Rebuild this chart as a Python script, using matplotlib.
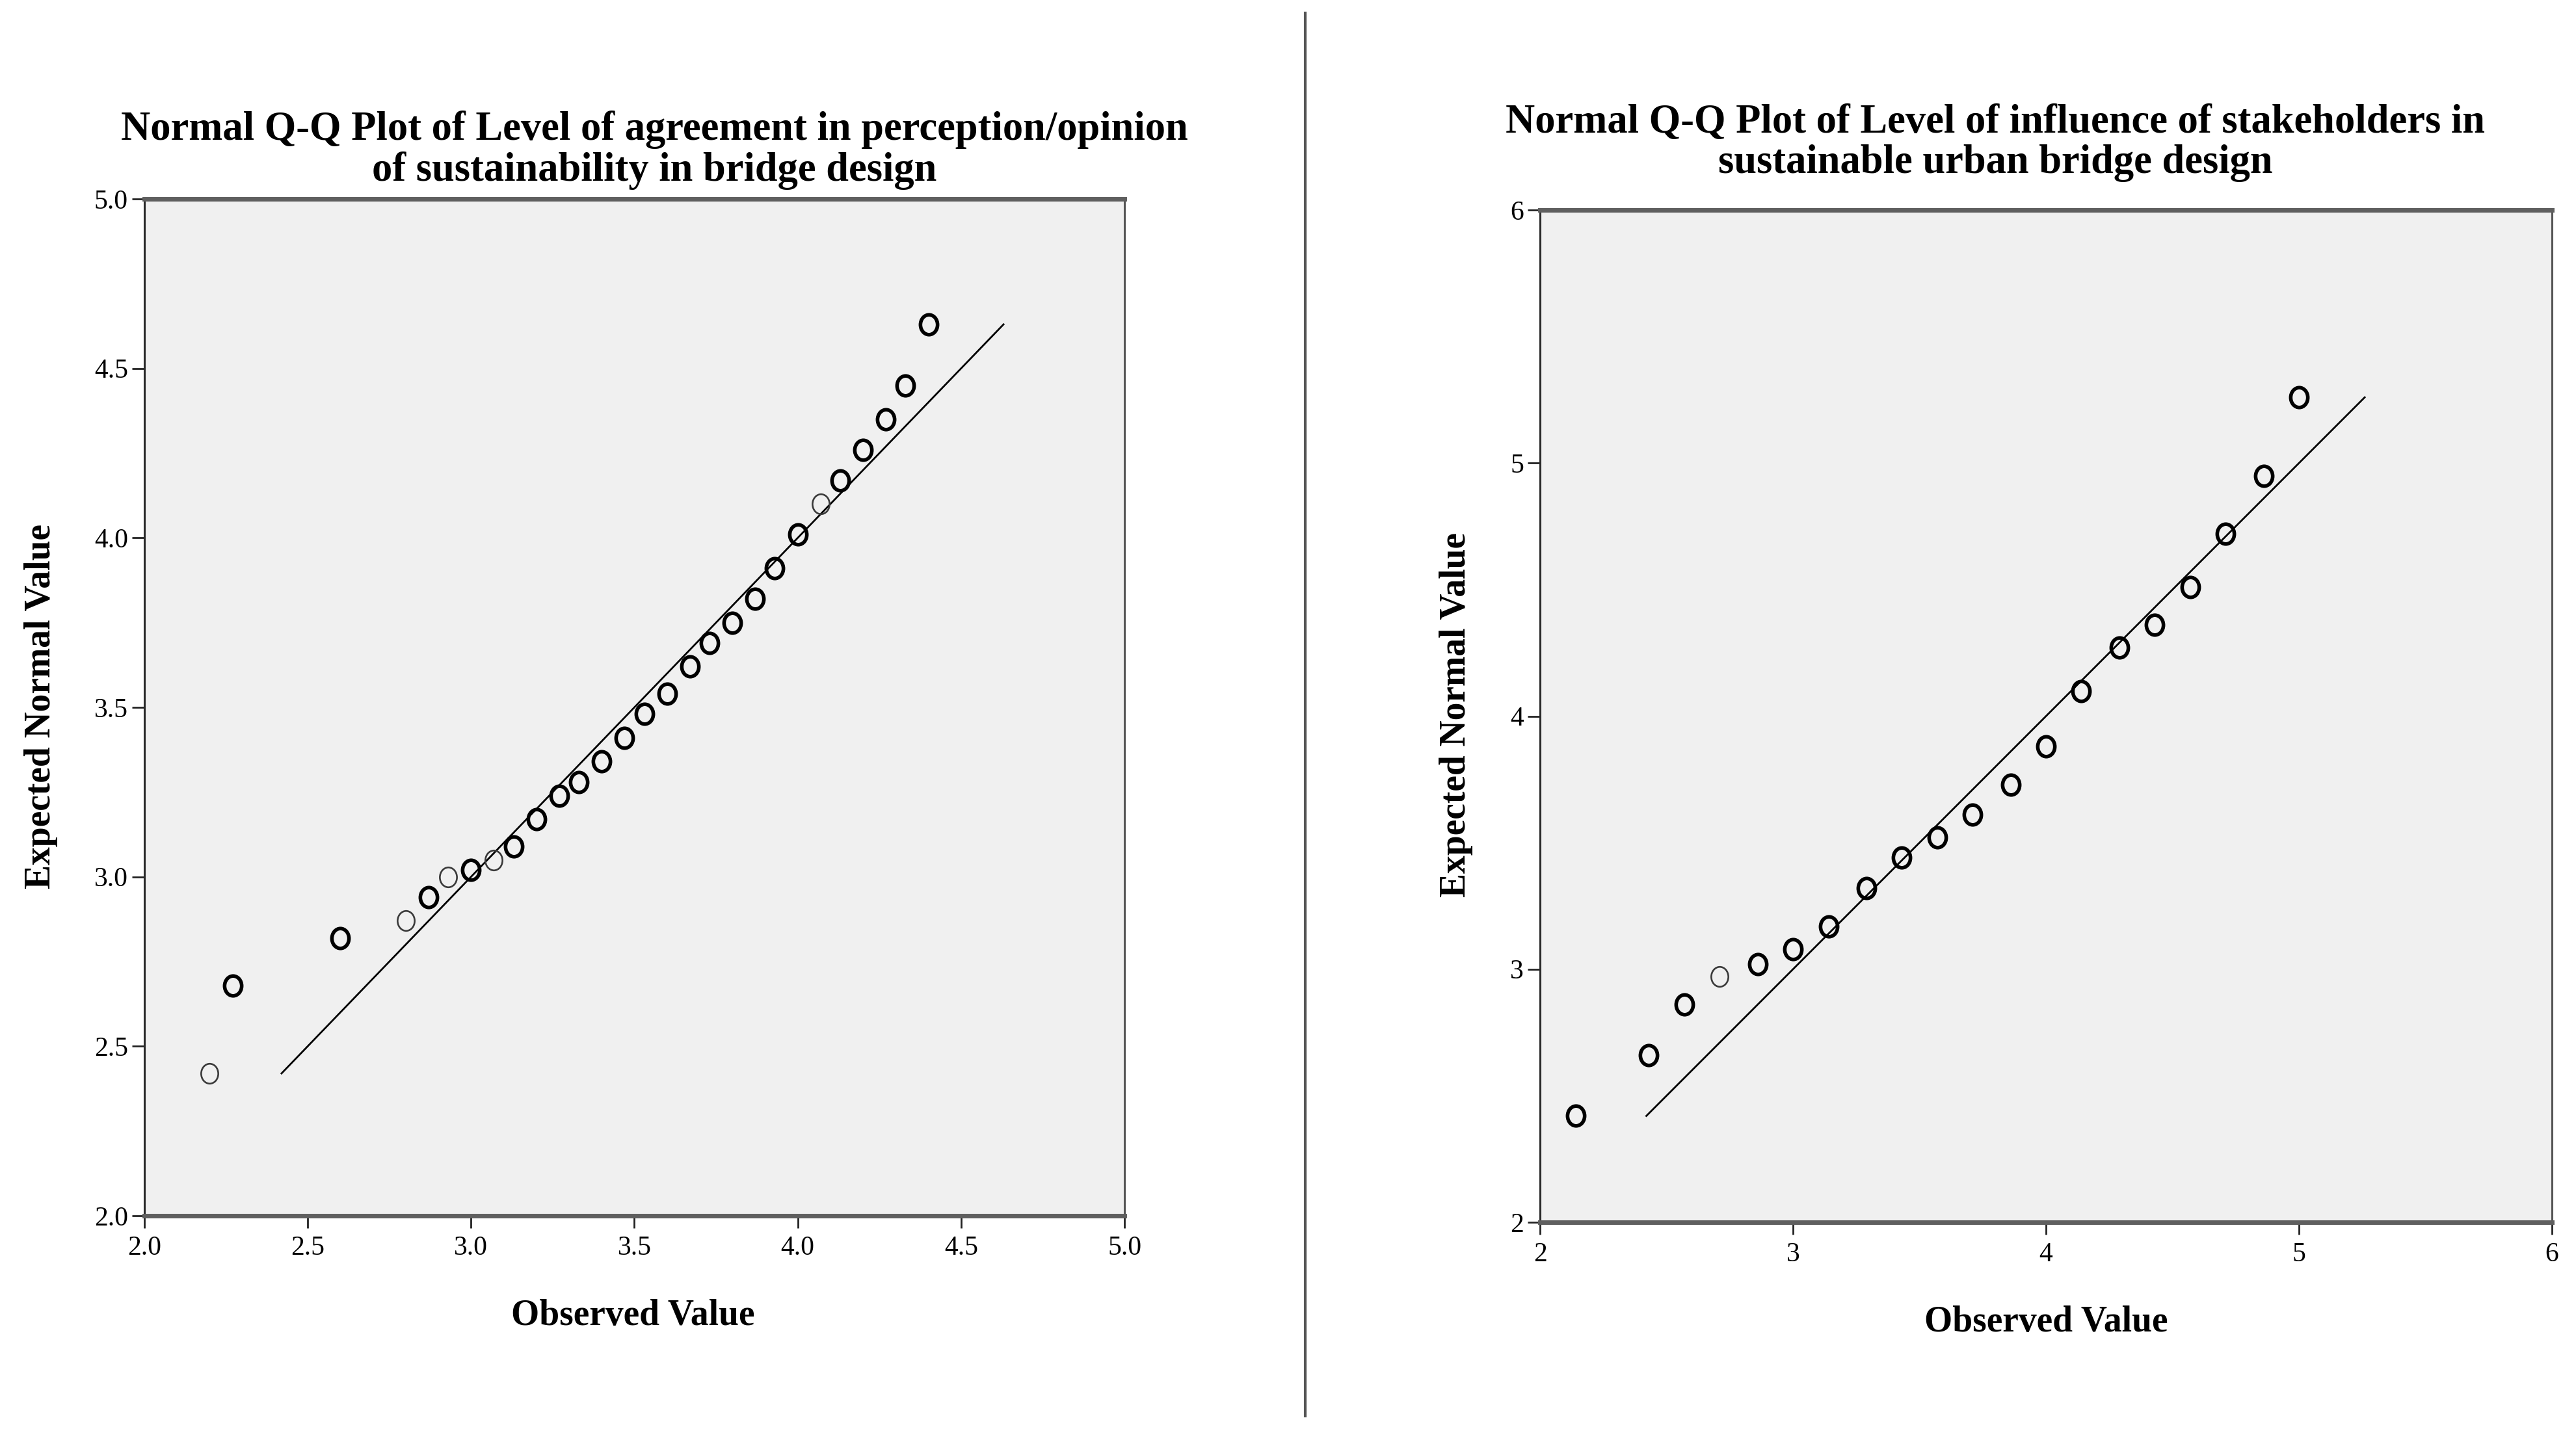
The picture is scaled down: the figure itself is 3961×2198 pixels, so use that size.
"""
Normal Q-Q plots (SPSS style) of two survey scales, side by side.
"""

import matplotlib
matplotlib.use("Agg")
import matplotlib.pyplot as plt
from matplotlib.path import Path
from matplotlib.transforms import Affine2D
from matplotlib.lines import Line2D


# ── Data ──────────────────────────────────────────────────────────────────────
left_title = ("Normal Q-Q Plot of Level of agreement in perception/opinion\n"
              "of sustainability in bridge design")
left_observed = [2.20, 2.27, 2.60, 2.80, 2.87, 2.93, 3.00, 3.07, 3.13, 3.20,
                 3.27, 3.33, 3.40, 3.47, 3.53, 3.60, 3.67, 3.73, 3.80, 3.87,
                 3.93, 4.00, 4.07, 4.13, 4.20, 4.27, 4.33, 4.40]
left_expected = [2.42, 2.68, 2.82, 2.87, 2.94, 3.00, 3.02, 3.05, 3.09, 3.17,
                 3.24, 3.28, 3.34, 3.41, 3.48, 3.54, 3.62, 3.69, 3.75, 3.82,
                 3.91, 4.01, 4.10, 4.17, 4.26, 4.35, 4.45, 4.63]
left_bold = [0, 1, 1, 0, 1, 0, 1, 0, 1, 1,
             1, 1, 1, 1, 1, 1, 1, 1, 1, 1,
             1, 1, 0, 1, 1, 1, 1, 1]
left_line = [2.42, 4.63]
left_ticks = [2.0, 2.5, 3.0, 3.5, 4.0, 4.5, 5.0]
left_ticklabels = ["2.0", "2.5", "3.0", "3.5", "4.0", "4.5", "5.0"]

right_title = ("Normal Q-Q Plot of Level of influence of stakeholders in\n"
               "sustainable urban bridge design")
right_observed = [2.14, 2.43, 2.57, 2.71, 2.86, 3.00, 3.14, 3.29, 3.43, 3.57,
                  3.71, 3.86, 4.00, 4.14, 4.29, 4.43, 4.57, 4.71, 4.86, 5.00]
right_expected = [2.42, 2.66, 2.86, 2.97, 3.02, 3.08, 3.17, 3.32, 3.44, 3.52,
                  3.61, 3.73, 3.88, 4.10, 4.27, 4.36, 4.51, 4.72, 4.95, 5.26]
right_bold = [1, 1, 1, 0, 1, 1, 1, 1, 1, 1,
              1, 1, 1, 1, 1, 1, 1, 1, 1, 1]
right_line = [2.42, 5.26]
right_ticks = [2, 3, 4, 5, 6]
right_ticklabels = ["2", "3", "4", "5", "6"]

x_label = "Observed Value"
y_label = "Expected Normal Value"


# ── Style ─────────────────────────────────────────────────────────────────────
DPI = 100
FIG_W, FIG_H = 39.62, 21.98
SERIF = ["Liberation Serif", "DejaVu Serif"]
FS_TITLE = 45
FS_LABEL = 40
FS_TICK = 30
PANEL_BG = "#f0f0f0"

plt.rcParams["font.family"] = SERIF

# slightly tall ellipse marker (the original picture is squeezed sideways)
ELLIPSE = Path.unit_circle().transformed(Affine2D().scale(0.86, 1.0))


def draw_panel(ax, obs, exp, bold, line, ticks, ticklabels, title,
               title_xy, xlabel_xy, ylabel_xy):
    ax.set_facecolor(PANEL_BG)

    thin_x = [o for o, b in zip(obs, bold) if not b]
    thin_y = [e for e, b in zip(exp, bold) if not b]
    bold_x = [o for o, b in zip(obs, bold) if b]
    bold_y = [e for e, b in zip(exp, bold) if b]

    ax.plot(line, line, color="black", linewidth=2.0, zorder=2)
    ax.plot(thin_x, thin_y, linestyle="none", marker=ELLIPSE, markersize=22,
            markerfacecolor="none", markeredgecolor="#3a3a3a",
            markeredgewidth=1.9, zorder=3)
    ax.plot(bold_x, bold_y, linestyle="none", marker=ELLIPSE, markersize=22,
            markerfacecolor="none", markeredgecolor="black",
            markeredgewidth=4.0, zorder=3)

    ax.set_xlim(ticks[0], ticks[-1])
    ax.set_ylim(ticks[0], ticks[-1])
    ax.set_xticks(ticks)
    ax.set_yticks(ticks)
    ax.set_xticklabels(ticklabels)
    ax.set_yticklabels(ticklabels)
    ax.tick_params(axis="both", direction="out", length=14, width=2.0,
                   color="#222222", labelsize=FS_TICK)
    ax.tick_params(axis="x", pad=8)
    ax.tick_params(axis="y", pad=4)

    for side in ("top", "bottom"):
        ax.spines[side].set_linewidth(5)
        ax.spines[side].set_color("#5f5f5f")
    ax.spines["left"].set_linewidth(2.2)
    ax.spines["left"].set_color("#2a2a2a")
    ax.spines["right"].set_linewidth(2.2)
    ax.spines["right"].set_color("#555555")

    fig = ax.figure
    fig.text(title_xy[0], title_xy[1], title, ha="center", va="center",
             fontsize=FS_TITLE, fontweight="bold", linespacing=1.1)
    fig.text(xlabel_xy[0], xlabel_xy[1], x_label, ha="center", va="center",
             fontsize=FS_LABEL, fontweight="bold")
    fig.text(ylabel_xy[0], ylabel_xy[1], y_label, ha="center", va="center",
             rotation=90, fontsize=FS_LABEL, fontweight="bold")


fig = plt.figure(figsize=(FIG_W, FIG_H), dpi=DPI, facecolor="white")

ax_left = fig.add_axes([0.0560, 0.1492, 0.3804, 0.7116])
ax_right = fig.add_axes([0.5977, 0.1447, 0.3927, 0.7083])

draw_panel(ax_left, left_observed, left_expected, left_bold, left_line,
           left_ticks, left_ticklabels, left_title,
           title_xy=(0.2539, 0.895), xlabel_xy=(0.2456, 0.079),
           ylabel_xy=(0.0160, 0.5055))
draw_panel(ax_right, right_observed, right_expected, right_bold, right_line,
           right_ticks, right_ticklabels, right_title,
           title_xy=(0.7744, 0.900), xlabel_xy=(0.7940, 0.0745),
           ylabel_xy=(0.5650, 0.5000))

# vertical divider between the two panels
fig.add_artist(Line2D([0.5066, 0.5066], [0.009, 0.991], transform=fig.transFigure,
                      color="#555555", linewidth=3))

fig.savefig("out.png", dpi=DPI, facecolor="white")
